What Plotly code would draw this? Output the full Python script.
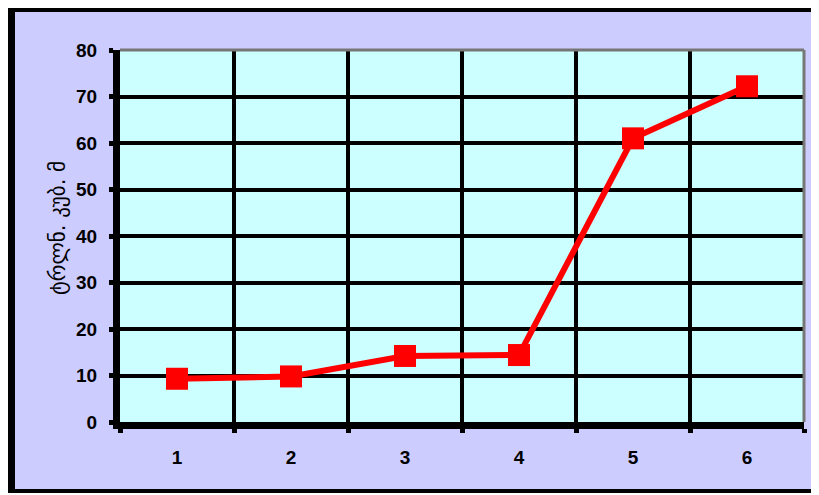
import plotly.graph_objects as go

categories = [1, 2, 3, 4, 5, 6]
values = [9.3, 9.8, 14.2, 14.4, 61.0, 72.2]
y_ticks = [0, 10, 20, 30, 40, 50, 60, 70, 80]
y_title = "ტრლნ. კუბ. მ"

# page has an 8px body margin; figure occupies page (8..819, 8..495)
OFF = 8
W, H = 819 - OFF, 495 - OFF
L, R, T, B = 120 - OFF, 15, 50 - OFF, 73
pw, ph = W - L - R, H - T - B


def px(x):  # page pixel -> paper
    return (x - OFF - L) / pw


def py(y):
    return (H - B - (y - OFF)) / ph


fig = go.Figure()
fig.add_trace(go.Scatter(
    x=categories, y=values, mode="lines+markers",
    line=dict(color="#FF0000", width=6),
    marker=dict(symbol="square", size=22, color="#FF0000"),
    showlegend=False,
))

font_ticks = dict(family="Liberation Sans, Arial, sans-serif", size=19, color="black", weight="bold")

fig.update_layout(
    width=W, height=H,
    margin=dict(l=L, r=R, t=T, b=B),
    paper_bgcolor="#CCCCFF",
    plot_bgcolor="#CCFFFF",
    xaxis=dict(
        range=[0.5, 6.5],
        tickmode="array", tickvals=categories, ticktext=[str(c) for c in categories],
        ticks="", showgrid=False, zeroline=False,
        showline=True, linecolor="black", linewidth=7,
        tickfont=font_ticks, ticklabelstandoff=12,
        minor=dict(tickmode="array", tickvals=[c - 0.5 for c in categories] + [6.5],
                   ticks="outside", ticklen=4, tickwidth=5, tickcolor="black",
                   showgrid=True, gridcolor="black", gridwidth=4),
    ),
    yaxis=dict(
        range=[0, 80], tickmode="array", tickvals=y_ticks,
        ticks="outside", ticklen=4, tickwidth=5, tickcolor="black",
        showgrid=True, gridcolor="black", gridwidth=4, zeroline=False,
        showline=True, linecolor="black", linewidth=7,
        tickfont=font_ticks, ticklabelstandoff=8,
    ),
    annotations=[dict(
        text=y_title, textangle=-90, xref="paper", yref="paper",
        x=px(58), y=py(228), xanchor="center", yanchor="middle", showarrow=False,
        font=dict(family="DejaVu Sans, Noto Sans", size=21, color="black"),
    )],
    shapes=[
        # black frame
        dict(type="rect", xref="paper", yref="paper", x0=px(0), x1=px(15), y0=py(493), y1=py(0),
             fillcolor="black", line=dict(width=0)),
        dict(type="rect", xref="paper", yref="paper", x0=px(0), x1=px(830), y0=py(12), y1=py(0),
             fillcolor="black", line=dict(width=0)),
        dict(type="rect", xref="paper", yref="paper", x0=px(0), x1=px(830), y0=py(493), y1=py(489),
             fillcolor="black", line=dict(width=0)),
        dict(type="rect", xref="paper", yref="paper", x0=px(0), x1=px(830), y0=py(500), y1=py(493),
             fillcolor="white", line=dict(width=0)),
        # gray top/right plot border
        dict(type="line", xref="paper", yref="paper", x0=0, x1=1, y0=1, y1=1,
             line=dict(color="#777777", width=3)),
        dict(type="line", xref="paper", yref="paper", x0=1, x1=1, y0=0, y1=1,
             line=dict(color="#777777", width=3)),
    ],
)

fig.write_html("out.html")
